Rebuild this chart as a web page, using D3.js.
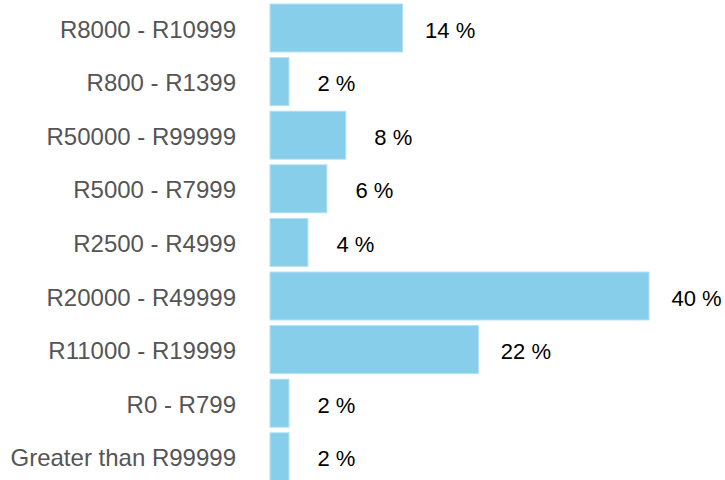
<!DOCTYPE html>
<html>
<head>
<meta charset="utf-8">
<script src="https://cdn.jsdelivr.net/npm/d3@7"></script>
<style>
  html, body { margin: 0; padding: 0; background: #fff; }
  svg { display: block; font-family: "Liberation Sans", Arial, sans-serif; }
</style>
</head>
<body>
<svg id="chart" width="725" height="480"></svg>
<script>
var categories = ["R8000 - R10999", "R800 - R1399", "R50000 - R99999", "R5000 - R7999",
  "R2500 - R4999", "R20000 - R49999", "R11000 - R19999", "R0 - R799", "Greater than R99999"];
var percents = [14, 2, 8, 6, 4, 40, 22, 2, 2];

var data = categories.map(function(c, i) { return {label: c, value: percents[i]}; });

var svg = d3.select("#chart"),
    margin = {top: 4, left: 270},
    barMax = 379,
    step = 53.6;

var xScale = d3.scaleLinear().domain([0, 40]).range([0, barMax]);
var yScale = d3.scaleBand()
    .domain(categories)
    .range([0, step * categories.length - (step - 48)])
    .paddingInner((step - 48) / step)
    .paddingOuter(0);

var g = svg.append("g").attr("transform", "translate(" + margin.left + "," + margin.top + ")");

// category labels
g.selectAll(".cat")
  .data(data)
  .enter().append("text")
    .attr("class", "cat")
    .attr("x", -34)
    .attr("y", function(d) { return yScale(d.label) + yScale.bandwidth() / 2; })
    .attr("dy", "0.4em")
    .attr("text-anchor", "end")
    .attr("fill", "#555555")
    .style("font-size", "24px")
    .text(function(d) { return d.label; });

// bars
g.selectAll(".bar")
  .data(data)
  .enter().append("rect")
    .attr("class", "bar")
    .attr("x", 0)
    .attr("y", function(d) { return yScale(d.label); })
    .attr("width", function(d) { return xScale(d.value); })
    .attr("height", yScale.bandwidth())
    .attr("fill", "#87CEEB")
    .attr("stroke", "#b5e1f3")
    .attr("stroke-width", 1);

// value labels, centred a fixed distance past the bar end
g.selectAll(".val")
  .data(data)
  .enter().append("text")
    .attr("class", "val")
    .attr("x", function(d) { return xScale(d.value) + 47.5; })
    .attr("y", function(d) { return yScale(d.label) + yScale.bandwidth() / 2; })
    .attr("dy", "0.44em")
    .attr("text-anchor", "middle")
    .attr("fill", "#000")
    .style("font-size", "22px")
    .text(function(d) { return d.value + " %"; });
</script>
</body>
</html>
